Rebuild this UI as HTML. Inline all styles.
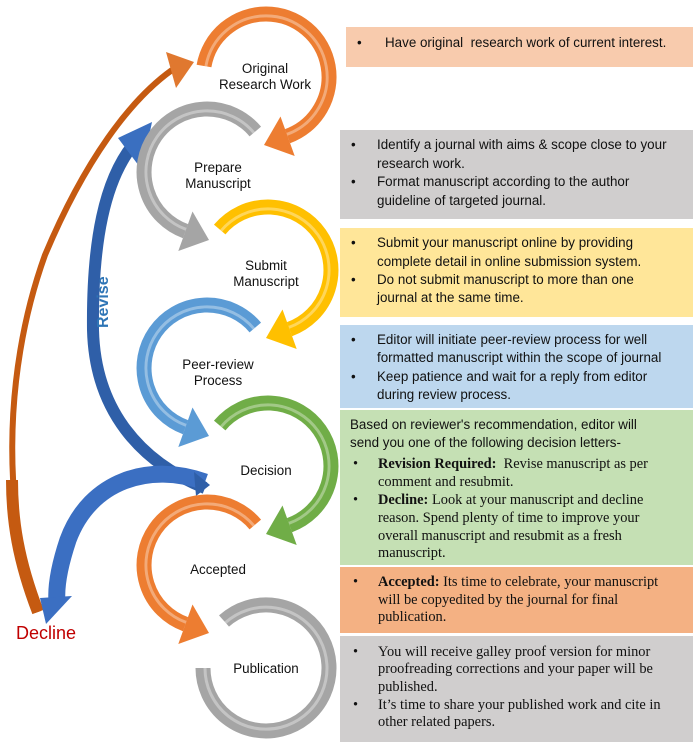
<!DOCTYPE html>
<html><head><meta charset="utf-8"><style>
body{margin:0;width:694px;height:744px;background:#fff;position:relative;overflow:hidden;font-family:"Liberation Sans",sans-serif}
.box{position:absolute;left:340px;width:353px}
.l{position:absolute;white-space:nowrap;font-size:13.4px;color:#111;line-height:16px}
.s{font-family:"Liberation Serif",serif;font-size:14.4px}
.lab{position:absolute;font-size:13.4px;color:#111;text-align:center;line-height:16px;width:130px;margin-left:-65px}
svg{position:absolute;left:0;top:0}
</style></head><body>
<div class="box" style="top:27px;height:40px;left:346px;width:347px;background:#f8cbad"></div>
<div class="box" style="top:130px;height:89px;background:#d0cece"></div>
<div class="box" style="top:228px;height:89px;background:#ffe699"></div>
<div class="box" style="top:325px;height:83px;background:#bdd7ee"></div>
<div class="box" style="top:410px;height:155px;background:#c5e0b4"></div>
<div class="box" style="top:567px;height:66px;background:#f4b183"></div>
<div class="box" style="top:636px;height:106px;background:#d0cece"></div>

<svg width="694" height="744" viewBox="0 0 694 744">
<defs>
<g id="rarc">
<path d="M -62,-11 A63,63 0 1 1 21.5,59.2" fill="none" stroke="currentColor" stroke-width="15"/>
<path d="M -62,-11 A63,63 0 1 1 21.5,59.2" fill="none" stroke="#fff" stroke-opacity="0.35" stroke-width="3" transform="scale(0.97)"/>
<polygon points="14.5,39.5 28.7,79 -2,68" fill="currentColor"/>
</g>
<g id="rarc2">
<path d="M -48.3,-40.5 A63,63 0 1 1 21.5,59.2" fill="none" stroke="currentColor" stroke-width="15"/>
<path d="M -48.3,-40.5 A63,63 0 1 1 21.5,59.2" fill="none" stroke="#fff" stroke-opacity="0.35" stroke-width="3" transform="scale(0.97)"/>
<polygon points="14.5,39.5 28.7,79 -2,68" fill="currentColor"/>
</g>
</defs>
<path d="M 38,612 C 5,520 0,380 45,255 C 85,160 130,100 172,70" fill="none" stroke="#c55a11" stroke-width="6"/>
<path d="M 38,612 C 18,560 12,520 12,480" fill="none" stroke="#c55a11" stroke-width="12"/>
<polygon points="166,52 194,62 176,88" fill="#e0782f"/>
<path d="M 205,488 C 140,462 95,410 93,330 C 92,240 105,180 133,145" fill="none" stroke="#2f5fa8" stroke-width="12"/>
<polygon points="118,138 152,122 142,170" fill="#3a6fc0"/>
<path d="M 205,482 C 150,462 90,480 68,540 C 58,570 56,590 57,602" fill="none" stroke="#3b6fc2" stroke-width="17"/>
<polygon points="40,598 72,596 46,624" fill="#3b6fc2"/>
<polygon points="194,472 210,485 196,496" fill="#2f5fa8"/>

<g transform="translate(266,77)" style="color:#ed7d31"><use href="#rarc"/></g>
<g transform="translate(207,172) scale(-1,1)" style="color:#a5a5a5"><use href="#rarc2"/></g>
<g transform="translate(268,270)" style="color:#ffc000"><use href="#rarc2"/></g>
<g transform="translate(207,368) scale(-1,1)" style="color:#5b9bd5"><use href="#rarc2"/></g>
<g transform="translate(268,466)" style="color:#70ad47"><use href="#rarc2"/></g>
<g transform="translate(207,565) scale(-1,1)" style="color:#ed7d31"><use href="#rarc2"/></g>
<g transform="translate(266,668)">
<path d="M -63,0 A63,63 0 1 0 -42,-47" fill="none" stroke="#a5a5a5" stroke-width="15"/>
<path d="M -61,0 A61,61 0 1 0 -41,-45" fill="none" stroke="#fff" stroke-opacity="0.35" stroke-width="3"/>
</g>
<text x="0" y="0" transform="translate(108,328) rotate(-90)" font-family="Liberation Sans" font-weight="bold" font-size="16" fill="#2e75b6">Revise</text>
<text x="16" y="639" font-family="Liberation Sans" font-size="18" fill="#c00000">Decline</text>
</svg>

<div class="lab" style="left:265px;top:61px">Original<br>Research Work</div>
<div class="lab" style="left:218px;top:160px">Prepare<br>Manuscript</div>
<div class="lab" style="left:266px;top:258px">Submit<br>Manuscript</div>
<div class="lab" style="left:218px;top:357px">Peer-review<br>Process</div>
<div class="lab" style="left:266px;top:463px">Decision</div>
<div class="lab" style="left:218px;top:562px">Accepted</div>
<div class="lab" style="left:266px;top:661px">Publication</div>

<div class="l" style="left:357px;top:35px">•</div><div class="l" style="left:385px;top:35px">Have original&nbsp; research work of current interest.</div>

<div class="l" style="left:351px;top:137px">•</div><div class="l" style="left:377px;top:137px">Identify a journal with aims &amp; scope close to your</div>
<div class="l" style="left:377px;top:156px">research work.</div>
<div class="l" style="left:351px;top:174px">•</div><div class="l" style="left:377px;top:174px">Format manuscript according to the author</div>
<div class="l" style="left:377px;top:193px">guideline of targeted journal.</div>

<div class="l" style="left:351px;top:235px">•</div><div class="l" style="left:377px;top:235px">Submit your manuscript online by providing</div>
<div class="l" style="left:377px;top:254px">complete detail in online submission system.</div>
<div class="l" style="left:351px;top:272px">•</div><div class="l" style="left:377px;top:272px">Do not submit manuscript to more than one</div>
<div class="l" style="left:377px;top:290px">journal at the same time.</div>

<div class="l" style="left:351px;top:332px">•</div><div class="l" style="left:377px;top:332px">Editor will initiate peer-review process for well</div>
<div class="l" style="left:377px;top:350px">formatted manuscript within the scope of journal</div>
<div class="l" style="left:351px;top:369px">•</div><div class="l" style="left:377px;top:369px">Keep patience and wait for a reply from editor</div>
<div class="l" style="left:377px;top:387px">during review process.</div>

<div class="l" style="left:350px;top:417px">Based on reviewer's recommendation, editor will</div>
<div class="l" style="left:350px;top:435px">send you one of the following decision letters-</div>
<div class="l s" style="left:353px;top:456px">•</div><div class="l s" style="left:378px;top:456px"><b>Revision Required:</b>&nbsp; Revise manuscript as per</div>
<div class="l s" style="left:378px;top:474px">comment and resubmit.</div>
<div class="l s" style="left:353px;top:492px">•</div><div class="l s" style="left:378px;top:492px"><b>Decline:</b> Look at your manuscript and decline</div>
<div class="l s" style="left:378px;top:510px">reason. Spend plenty of time to improve your</div>
<div class="l s" style="left:378px;top:528px">overall manuscript and resubmit as a fresh</div>
<div class="l s" style="left:378px;top:545px">manuscript.</div>

<div class="l s" style="left:353px;top:574px">•</div><div class="l s" style="left:378px;top:574px"><b>Accepted:</b> Its time to celebrate, your manuscript</div>
<div class="l s" style="left:378px;top:592px">will be copyedited by the journal for final</div>
<div class="l s" style="left:378px;top:609px">publication.</div>

<div class="l s" style="left:353px;top:644px">•</div><div class="l s" style="left:378px;top:644px">You will receive galley proof version for minor</div>
<div class="l s" style="left:378px;top:661px">proofreading corrections and your paper will be</div>
<div class="l s" style="left:378px;top:679px">published.</div>
<div class="l s" style="left:353px;top:697px">•</div><div class="l s" style="left:378px;top:697px">It’s time to share your published work and cite in</div>
<div class="l s" style="left:378px;top:714px">other related papers.</div>
</body></html>
